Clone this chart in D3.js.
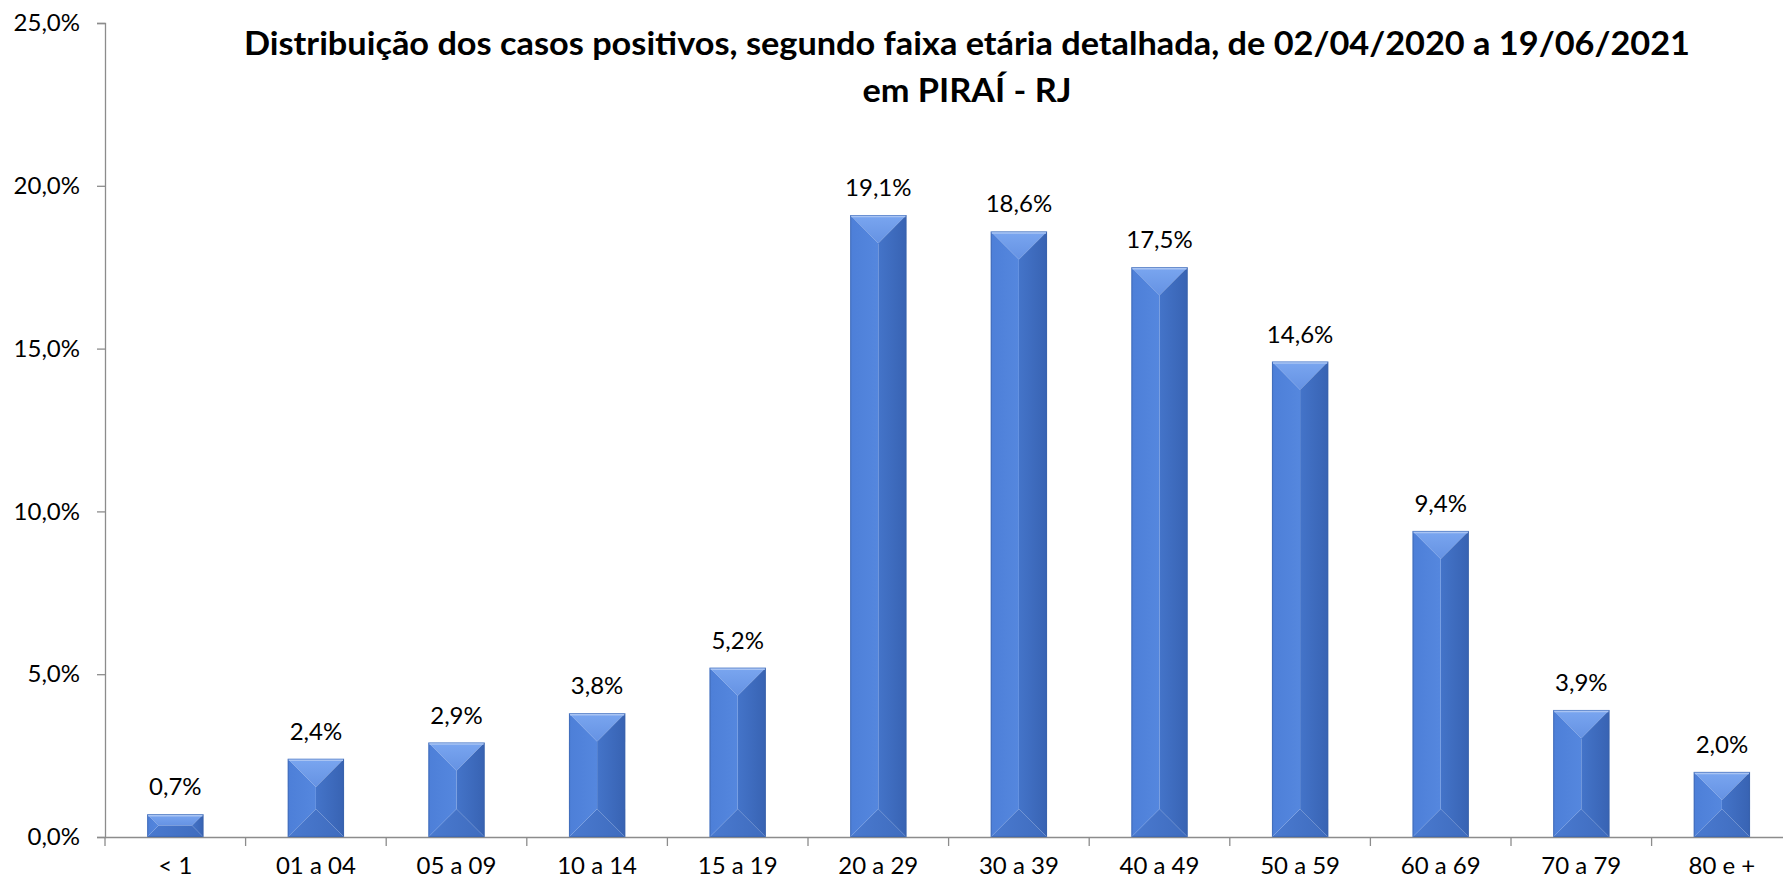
<!DOCTYPE html>
<html>
<head>
<meta charset="utf-8">
<script src="https://cdn.jsdelivr.net/npm/d3@7"></script>
<style>
  html, body { margin: 0; padding: 0; background: #fff; }
  svg { display: block; }
  text { font-family: Lato, "Open Sans", sans-serif; fill: #000; }
</style>
</head>
<body>
<svg id="chart" width="1783" height="881"></svg>
<script>
const categories = ["< 1", "01 a 04", "05 a 09", "10 a 14", "15 a 19", "20 a 29", "30 a 39", "40 a 49", "50 a 59", "60 a 69", "70 a 79", "80 e +"];
const values = [0.7, 2.4, 2.9, 3.8, 5.2, 19.1, 18.6, 17.5, 14.6, 9.4, 3.9, 2.0];
const yTicks = [0, 5, 10, 15, 20, 25];
const titleLines = ["Distribuição dos casos positivos, segundo faixa etária detalhada, de 02/04/2020 a 19/06/2021", "em PIRAÍ - RJ"];

(function () {
const fmt = v => d3.format(".1f")(v).replace(".", ",") + "%";

const svg = d3.select("#chart");
const plotLeft = 105, plotBottom = 837, plotTop = 23, step = 140.6;

const x = d3.scaleBand().domain(categories).range([plotLeft, plotLeft + step * categories.length]).paddingInner(0.6).paddingOuter(0.3);
const y = d3.scaleLinear().domain([0, 25]).range([plotBottom, plotTop]);

const defs = svg.append("defs");
function lin(id, stops, x2, y2) {
  const g = defs.append("linearGradient").attr("id", id).attr("x1", 0).attr("y1", 0).attr("x2", x2).attr("y2", y2);
  stops.forEach(s => g.append("stop").attr("offset", s[0]).attr("stop-color", s[1]));
}
lin("gTop", [[0, "#7aa6f0"], [1, "#6592e3"]], 0, 1);
lin("gLeft", [[0, "#4d7fd8"], [1, "#5587de"]], 1, 0);
lin("gRight", [[0, "#4474c9"], [1, "#3863b3"]], 1, 0);
lin("gBottom", [[0, "#4a7ad0"], [1, "#3f6cbe"]], 1, 0);

const yAxis = d3.axisLeft(y).tickValues(yTicks).tickSize(8).tickPadding(17).tickFormat(fmt);
const gy = svg.append("g").attr("transform", `translate(${plotLeft},0)`).call(yAxis);
gy.select(".domain").attr("stroke", "#8c8c8c").attr("stroke-width", 1.3);
gy.selectAll(".tick line").attr("stroke", "#8c8c8c").attr("stroke-width", 1.3);
gy.selectAll(".tick text").style("font-size", "24px").style("font-family", "Lato, sans-serif").attr("fill", "#000");

const xAxis = d3.axisBottom(x).tickSize(0).tickPadding(20);
const gx = svg.append("g").attr("transform", `translate(0,${plotBottom})`).call(xAxis);
gx.select(".domain").attr("stroke", "#8c8c8c").attr("stroke-width", 1.3);
gx.selectAll(".tick text").style("font-size", "24px").style("font-family", "Lato, sans-serif").attr("fill", "#000");
const boundaries = d3.range(categories.length + 1).map(i => plotLeft + step * i);
gx.selectAll("line.bound").data(boundaries).enter().append("line")
  .attr("class", "bound").attr("x1", d => d).attr("x2", d => d).attr("y1", 0).attr("y2", 9)
  .attr("stroke", "#8c8c8c").attr("stroke-width", 1.3);

const bars = svg.append("g");
categories.forEach((c, i) => {
  const bx = x(c), bw = x.bandwidth(), by = y(values[i]), bh = plotBottom - by;
  const ins = Math.min(bw, bh) / 2;
  const TL = [bx + ins, by + ins], TR = [bx + bw - ins, by + ins];
  const BL = [bx + ins, by + bh - ins], BR = [bx + bw - ins, by + bh - ins];
  const g = bars.append("g");
  const poly = (pts, fill) => g.append("polygon").attr("points", pts.map(p => p.join(",")).join(" ")).attr("fill", fill);
  poly([[bx, by], [bx + bw, by], TR, TL], "url(#gTop)");
  poly([[bx + bw, by], [bx + bw, by + bh], BR, TR], "url(#gRight)");
  poly([[bx, by + bh], [bx + bw, by + bh], BR, BL], "url(#gBottom)");
  poly([[bx, by], [bx, by + bh], BL, TL], "url(#gLeft)");
  g.append("rect").attr("x", bx + 0.5).attr("y", by + 0.5).attr("width", bw - 1).attr("height", bh - 1)
    .attr("fill", "none").attr("stroke", "#3a62a8").attr("stroke-opacity", 0.55).attr("stroke-width", 1.2);
  g.append("line").attr("x1", bx + 1).attr("x2", bx + bw - 1).attr("y1", by + 1.5).attr("y2", by + 1.5)
    .attr("stroke", "#a9c4f3").attr("stroke-width", 1.5);
  svg.append("text").attr("x", bx + bw / 2).attr("y", by - 19).attr("text-anchor", "middle")
    .style("font-size", "24px").text(fmt(values[i]));
});

const t1 = svg.append("text").attr("x", 967).attr("y", 55).attr("text-anchor", "middle")
  .style("font-size", "32px").style("font-weight", "bold").text(titleLines[0]);
const w1 = t1.node().getComputedTextLength();
const t2 = svg.append("text").attr("x", 967).attr("y", 102).attr("text-anchor", "middle")
  .style("font-size", "32px").style("font-weight", "bold").text(titleLines[1]);
const w2 = t2.node().getComputedTextLength();
const k = 1446 / w1;
t1.attr("textLength", 1446).attr("lengthAdjust", "spacingAndGlyphs");
t2.attr("textLength", w2 * k).attr("lengthAdjust", "spacingAndGlyphs");
})();
</script>
</body>
</html>
